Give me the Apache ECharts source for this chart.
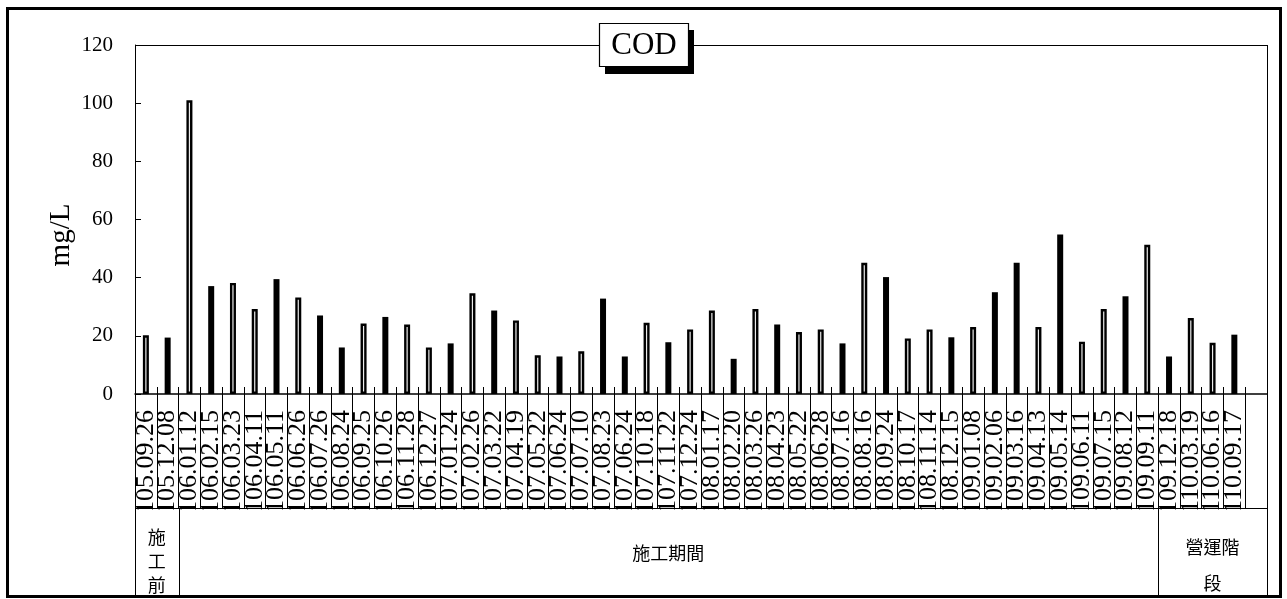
<!DOCTYPE html>
<html><head><meta charset="utf-8">
<script src="https://cdn.jsdelivr.net/npm/echarts@6/dist/echarts.min.js"></script>
<style>html,body{margin:0;padding:0;background:#fff}#c{width:1287px;height:599px}</style>
</head><body><div id="c"></div>
<script>
// ---- data ----
const categories = [
  '105.09.26','105.12.08','106.01.12','106.02.15','106.03.23','106.04.11','106.05.11','106.06.26',
  '106.07.26','106.08.24','106.09.25','106.10.26','106.11.28','106.12.27','107.01.24','107.02.26',
  '107.03.22','107.04.19','107.05.22','107.06.24','107.07.10','107.08.23','107.06.24','107.10.18',
  '107.11.22','107.12.24','108.01.17','108.02.20','108.03.26','108.04.23','108.05.22','108.06.28',
  '108.07.16','108.08.16','108.09.24','108.10.17','108.11.14','108.12.15','109.01.08','109.02.06',
  '109.03.16','109.04.13','109.05.14','109.06.11','109.07.15','109.08.12','109.09.11','109.12.18',
  '110.03.19','110.06.16','110.09.17',''
];
const codValues = [
  20.2,19.4,101,37.1,38.2,29.2,39.5,33.2,27,16,24.2,26.5,23.9,16,17.4,34.6,
  28.7,25.3,13.3,12.9,14.7,32.8,12.9,24.5,17.8,22.2,28.7,12.1,29.2,23.9,21.3,22.2,
  17.4,45.1,40.2,19.1,22.2,19.5,23.0,35.0,45.1,23.0,54.8,18,29.2,33.6,51.3,12.9,
  26.1,17.6,20.4,null
];
// H = hollow (outlined) bar, S = solid bar
const barKinds = [
  'H','S','H','S','H','H','S','H','S','S','H','S','H','H','S','H',
  'S','H','H','S','H','S','S','H','S','H','H','S','H','S','H','H',
  'S','H','S','H','H','S','H','S','S','H','S','H','H','S','H','S',
  'H','H','S',''
];
const yMin = 0, yMax = 120, yStep = 20;
const titleText = 'COD';
const yName = 'mg/L';
const groupLabels = ['施\n工\n前', '施工期間', '營運階\n段'];
const groupSpans = [2, 45, 5];

// ---- layout ----
const W = 1287, H = 599;
const gL = 135, gR = 1267, gT = 45, gB = 394;
const labelBottom = 508.5, frameBottom = 597;
const catW = (gR - gL) / categories.length;
const serif = '"Liberation Serif","Times New Roman",serif';
const cjk = '"Noto Sans CJK TC","Noto Sans CJK SC",sans-serif';

const chart = echarts.init(document.getElementById('c'), null, {renderer: 'canvas'});

const hollowStyle = {color: '#ececec', borderColor: '#000', borderWidth: 2.4};
const solidStyle = {color: '#000', borderWidth: 0};
const barData = codValues.map((v, i) => v == null ? null :
  {value: v, itemStyle: barKinds[i] === 'H' ? hollowStyle : solidStyle});

const g = [];
// outer frame
g.push({type: 'rect', z: 120, shape: {x: 7.5, y: 8.5, width: 1273, height: 588},
  style: {fill: null, stroke: '#000', lineWidth: 3}});
// mask below label band (clip long labels)
g.push({type: 'rect', z: 100, shape: {x: gL + 1, y: labelBottom + 1, width: gR - gL - 2, height: frameBottom - labelBottom - 2},
  style: {fill: '#fff'}});
function line(x1, y1, x2, y2, w) {
  g.push({type: 'line', z: 110, shape: {x1, y1, x2, y2}, style: {stroke: '#000', lineWidth: w || 1}});
}
line(gL, gT + 0.5, gR, gT + 0.5);
line(gR + 0.5, gT, gR + 0.5, frameBottom);
line(gL + 0.5, gB, gL + 0.5, frameBottom);
line(gL, labelBottom, gR, labelBottom);
// group cells
let start = 0;
groupSpans.forEach((n, k) => {
  const x0 = gL + start * catW, x1 = gL + (start + n) * catW;
  if (k > 0) line(Math.round(x0) + 0.5, labelBottom, Math.round(x0) + 0.5, frameBottom);
  g.push({type: 'text', z: 111, x: (x0 + x1) / 2, y: k === 0 ? 561 : (k === 2 ? 565 : 553),
    style: {text: groupLabels[k], fill: '#000', font: '18px ' + cjk, align: 'center', verticalAlign: 'middle',
      lineHeight: k === 0 ? 24 : 36}});
  start += n;
});
// title box with shadow
g.push({type: 'rect', z: 112, shape: {x: 605, y: 30, width: 89, height: 44}, style: {fill: '#000'}});
g.push({type: 'rect', z: 113, shape: {x: 599.5, y: 23.5, width: 89, height: 43}, style: {fill: '#fff', stroke: '#000', lineWidth: 1.2}});
g.push({type: 'text', z: 114, x: 644, y: 46, style: {text: titleText, font: '31px ' + serif, fill: '#000', align: 'center', verticalAlign: 'middle'}});
// y axis name
g.push({type: 'text', z: 114, x: 61, y: 235, rotation: Math.PI / 2,
  style: {text: yName, font: '29px ' + serif, fill: '#000', align: 'center', verticalAlign: 'middle'}});

chart.setOption({
  animation: false,
  backgroundColor: '#fff',
  grid: {left: gL, right: W - gR, top: gT, bottom: H - gB, containLabel: false},
  xAxis: [{
    type: 'category', data: categories, boundaryGap: true,
    axisLine: {show: true, lineStyle: {color: '#000', width: 1.5}},
    axisTick: {show: true, interval: 0, inside: false, length: labelBottom - gB, lineStyle: {color: '#000', width: 1}},
    axisLabel: {interval: 0, rotate: 90, margin: 16, color: '#000', fontFamily: serif, fontSize: 26},
    splitLine: {show: false}
  }, {
    type: 'category', data: categories, boundaryGap: true, position: 'bottom',
    axisLine: {show: false},
    axisTick: {show: true, interval: 0, inside: true, length: 7, lineStyle: {color: '#000', width: 1}},
    axisLabel: {show: false}, splitLine: {show: false}
  }],
  yAxis: {
    type: 'value', min: yMin, max: yMax, interval: yStep,
    axisLine: {show: true, lineStyle: {color: '#000', width: 1}},
    axisTick: {show: true, inside: true, length: 6, lineStyle: {color: '#000'}},
    axisLabel: {color: '#000', fontFamily: serif, fontSize: 21, margin: 22},
    splitLine: {show: false}
  },
  series: [{
    type: 'bar', xAxisIndex: 0, data: barData, barWidth: 6, z: 3
  }],
  graphic: {elements: g}
});
</script></body></html>
